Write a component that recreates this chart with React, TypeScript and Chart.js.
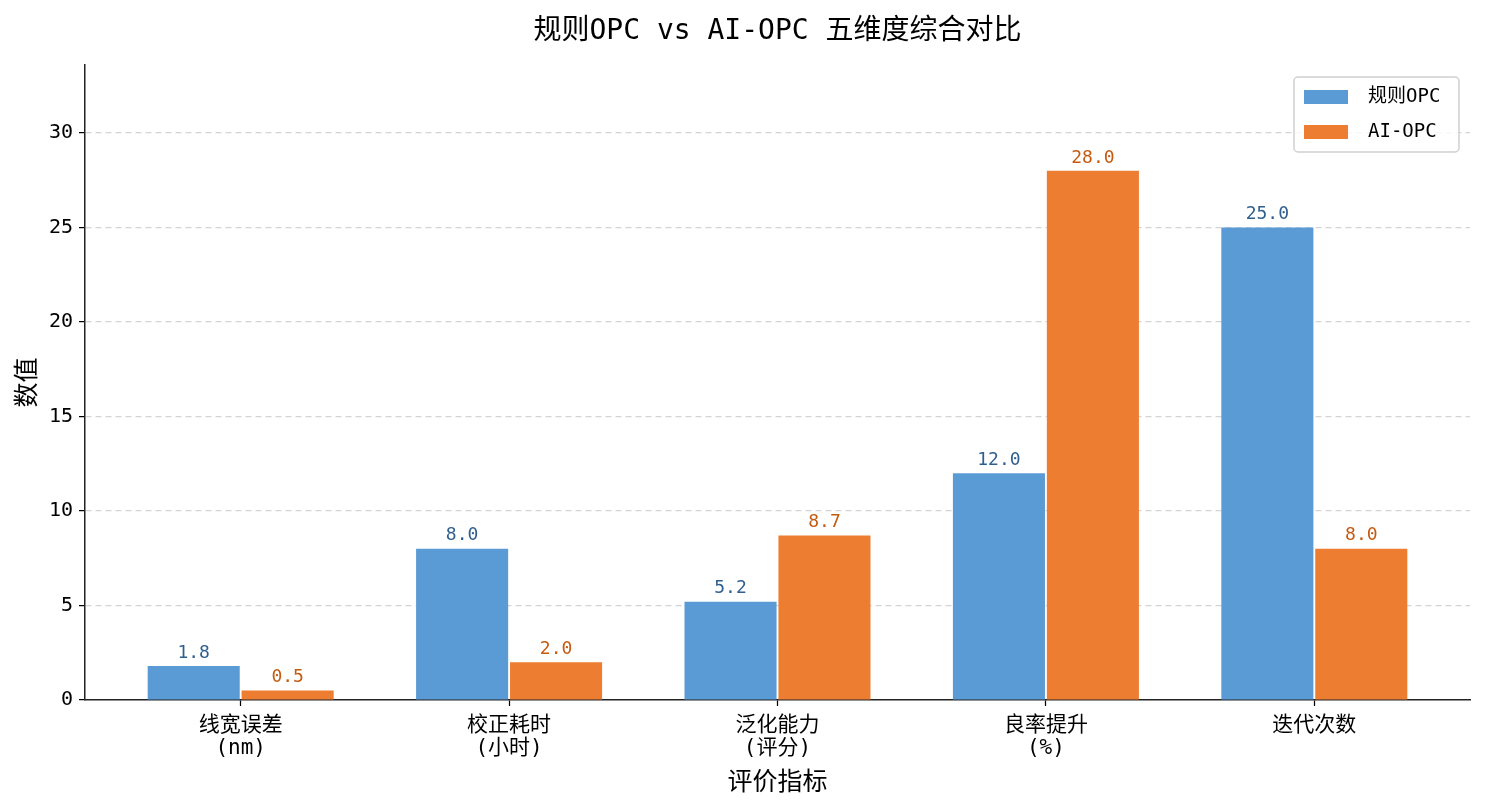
import React, { useEffect, useRef } from 'react';
import { Chart, registerables } from 'chart.js';

Chart.register(...registerables);

const FONT = "'DejaVu Sans Mono', 'Noto Sans CJK SC', sans-serif";

const chartTitle = '规则OPC vs AI-OPC 五维度综合对比';
const xTitle = '评价指标';
const yTitle = '数值';

const categories = [
  ['线宽误差', '(nm)'],
  ['校正耗时', '(小时)'],
  ['泛化能力', '(评分)'],
  ['良率提升', '(%)'],
  ['迭代次数'],
];

const seriesNames = ['规则OPC', 'AI-OPC'];
const ruleOPC = [1.8, 8.0, 5.2, 12.0, 25.0];
const aiOPC = [0.5, 2.0, 8.7, 28.0, 8.0];

const barColors = ['#5B9BD5', '#ED7D31'];
const labelColors = ['#2F5F8F', '#C55A11'];

// titre centré sur la zone de tracé
const titlePlugin = {
  id: 'centeredTitle',
  afterDraw(chart: any) {
    const { ctx, chartArea } = chart;
    ctx.save();
    ctx.font = `28px ${FONT}`;
    ctx.fillStyle = '#000';
    ctx.textAlign = 'center';
    ctx.textBaseline = 'middle';
    ctx.fillText(chartTitle, (chartArea.left + chartArea.right) / 2, 32);
    ctx.restore();
  },
};

const valueLabels = {
  id: 'valueLabels',
  afterDatasetsDraw(chart: any) {
    const ctx = chart.ctx;
    ctx.save();
    ctx.font = `18px ${FONT}`;
    ctx.textAlign = 'center';
    ctx.textBaseline = 'bottom';
    chart.data.datasets.forEach((ds: any, di: number) => {
      const meta = chart.getDatasetMeta(di);
      ctx.fillStyle = labelColors[di];
      meta.data.forEach((bar: any, i: number) => {
        ctx.fillText(ds.data[i].y.toFixed(1), bar.x, bar.y - 4);
      });
    });
    ctx.restore();
  },
};

const boxLegend = {
  id: 'boxLegend',
  afterDraw(chart: any) {
    const { ctx, chartArea } = chart;
    const w = 165;
    const h = 75;
    const x = chartArea.right - 11 - w;
    const y = chartArea.top + 12;
    ctx.save();
    ctx.fillStyle = 'rgba(255,255,255,0.8)';
    ctx.strokeStyle = '#d0d0d0';
    ctx.lineWidth = 1.5;
    ctx.beginPath();
    ctx.roundRect(x, y, w, h, 4);
    ctx.fill();
    ctx.stroke();
    ctx.font = `19px ${FONT}`;
    ctx.textBaseline = 'middle';
    ctx.textAlign = 'left';
    chart.data.datasets.forEach((ds: any, i: number) => {
      const cy = y + 20 + i * 35;
      ctx.fillStyle = ds.backgroundColor;
      ctx.fillRect(x + 10, cy - 7, 44, 14);
      ctx.fillStyle = '#000';
      ctx.fillText(ds.label, x + 74, cy);
    });
    ctx.restore();
  },
};

const App: React.FC = () => {
  const chartRef = useRef<HTMLCanvasElement | null>(null);

  useEffect(() => {
    document.body.style.margin = '0';
    if (!chartRef.current) return;

    const toPoints = (vals: number[]) => vals.map((v, i) => ({ x: i, y: v }));
    const tickFont = { family: FONT, size: 20 };

    const myChart = new Chart(chartRef.current, {
      type: 'bar',
      data: {
        datasets: [ruleOPC, aiOPC].map((vals, i) => ({
          label: seriesNames[i],
          data: toPoints(vals),
          backgroundColor: barColors[i],
          borderWidth: 0,
          categoryPercentage: 0.7,
          barPercentage: 0.98,
        })),
      },
      options: {
        animation: false,
        responsive: true,
        maintainAspectRatio: false,
        layout: { padding: { left: 0, right: 15, top: 65, bottom: 0 } },
        plugins: {
          legend: { display: false },
          tooltip: { enabled: false },
          title: { display: false },
        },
        scales: {
          x: {
            type: 'linear',
            offset: false,
            min: -0.58,
            max: categories.length - 1 + 0.58,
            afterBuildTicks: (s: any) => {
              s.ticks = categories.map((_, i) => ({ value: i }));
            },
            afterFit: (s: any) => {
              s.height = 110;
            },
            ticks: {
              callback: (v: any) => categories[v],
              font: { ...tickFont, size: 21, lineHeight: 1.05 },
              color: '#000',
              padding: 9,
              autoSkip: false,
              maxRotation: 0,
            },
            grid: {
              offset: false,
              drawOnChartArea: false,
              drawTicks: true,
              tickLength: 6,
              tickColor: '#000',
              tickWidth: 1.25,
            },
            border: { display: true, color: '#222', width: 1.5 },
            title: {
              display: true,
              text: xTitle,
              font: { family: FONT, size: 25 },
              color: '#000',
              padding: { top: 0, bottom: 12 },
            },
          },
          y: {
            min: 0,
            max: Math.max(...ruleOPC, ...aiOPC) * 1.2,
            afterFit: (s: any) => {
              s.width = 85;
            },
            ticks: {
              stepSize: 5,
              includeBounds: false,
              font: tickFont,
              color: '#000',
              padding: 6,
            },
            grid: {
              color: (c: any) => (c.tick && c.tick.value === 0 ? 'rgba(0,0,0,0)' : '#d4d4d4'),
              lineWidth: 1.2,
              tickLength: 6,
              tickColor: '#000',
              tickWidth: 1.25,
              tickBorderDash: [],
            },
            border: { display: true, color: '#222', width: 1.5, dash: [6, 4] },
            title: {
              display: true,
              text: yTitle,
              font: { family: FONT, size: 25 },
              color: '#000',
              padding: { top: 13, bottom: 0 },
            },
          },
        },
      } as any,
      plugins: [titlePlugin, valueLabels, boxLegend],
    });

    return () => myChart.destroy();
  }, []);

  return (
    <div style={{ position: 'relative', width: 1485, height: 810 }}>
      <canvas ref={chartRef} />
    </div>
  );
};

export default App;
